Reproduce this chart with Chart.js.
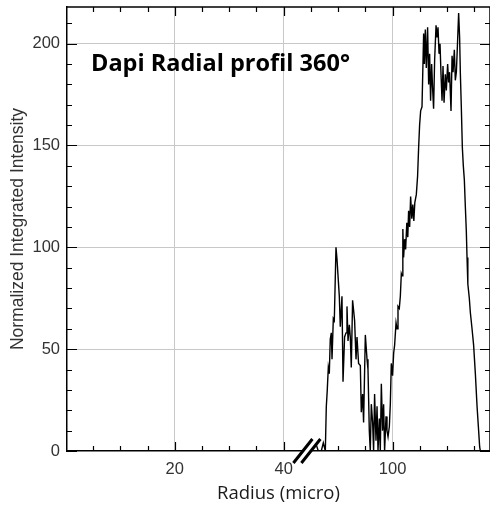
<!DOCTYPE html>
<html>
<head>
<meta charset="utf-8">
<script src="https://cdn.jsdelivr.net/npm/chart.js@4/dist/chart.umd.min.js"></script>
<style>
  html, body { margin: 0; padding: 0; background: #fff; }
  #wrap { width: 490px; height: 512px; }
</style>
</head>
<body>
<div id="wrap"><canvas id="c" width="490" height="512"></canvas></div>
<script>
// ---- data (radius in micro, normalized integrated intensity) ----
const titleText = 'Dapi Radial profil 360°';
const xTitle = 'Radius (micro)';
const yTitle = 'Normalized Integrated Intensity';

// axis break: radius values between breakStart and breakEnd are cut out
const breakStart = 45;
const breakEnd = 85;

const xTickLabels = [20, 40, 100];
const yTickLabels = [0, 50, 100, 150, 200];

const radius = [
  0.2, 45,
  85.00, 85.99, 86.36, 86.91, 87.28, 87.65, 87.77, 87.83, 88.01, 88.20,
  88.38, 88.56, 88.75, 88.88, 89.12, 89.30, 89.61, 89.80, 90.03, 90.22,
  90.40, 90.71, 90.90, 91.19, 91.45, 91.63, 91.82, 92.06, 92.24, 92.42,
  92.66, 92.85, 93.03, 93.29, 93.47, 93.76, 94.08, 94.26, 94.50, 94.68,
  95.00, 95.31, 95.49, 95.73, 95.91, 96.10, 96.34, 96.52, 96.70, 96.96,
  97.15, 97.33, 97.57, 97.75, 97.94, 98.17, 98.36, 98.54, 98.80, 98.98,
  99.17, 99.41, 99.59, 99.77, 100.01, 100.20, 100.38, 100.64, 100.82, 101.00,
  101.24, 101.43, 101.61, 101.74, 101.89, 102.03, 102.22, 102.40, 102.62, 102.80,
  102.95, 103.14, 103.32, 103.54, 103.72, 103.91, 104.09, 104.37, 104.60, 104.79,
  104.97, 105.16, 105.41, 105.71, 105.84, 106.02, 106.20, 106.44, 106.63, 106.81,
  106.99, 107.18, 107.36, 107.54, 107.73, 107.99, 108.17, 108.35, 108.54, 108.72,
  108.90, 109.09, 109.27, 109.46, 109.69, 109.88, 110.12, 110.30, 110.48, 110.74,
  110.93, 111.11, 111.35, 111.53, 111.72, 111.90, 112.14, 112.32, 112.45, 112.63,
  112.82, 113.00, 113.19, 113.37, 113.55, 113.68, 113.83, 114.10, 114.29, 114.60,
  114.89, 115.21, 115.52, 115.81, 116.00, 116.13, 117.78
];

const intensity = [
  0, 0,
  0, 3, 0, 0, 4, 0, 0, 21.7, 30, 41,
  38, 55, 58, 45, 65, 64, 100, 94, 84, 76,
  61, 76, 34, 56, 58, 71, 54, 62, 56, 41,
  74, 69, 64, 45, 56, 43, 42, 19, 28, 14,
  57, 45, 40, 10, 0, 23, 14, 0, 28, 5,
  22, 0, 16, 0, 33, 10, 23, 0, 17, 10,
  7, 12, 23, 43, 37, 48, 52, 63, 60, 71,
  70, 76, 87, 86, 109, 95, 104, 99, 112, 105,
  118, 110, 125, 114, 121, 113, 122, 126, 135, 149,
  160, 167, 169, 205, 190, 207, 188, 208, 180, 195,
  172, 190, 178, 168, 192, 209, 203, 208, 195, 200,
  185, 172, 189, 171, 185, 177, 190, 181, 186, 167,
  194, 186, 197, 182, 186, 198, 215, 203, 186, 169,
  149, 140, 133, 120, 108, 95, 82, 75, 68, 60,
  52, 38, 22, 10, 2, 0, 0
];

// ---- axis-break helpers ----
const gap = breakEnd - breakStart;
const toAxis = r => (r >= breakEnd ? r - gap : r);
const fromAxis = u => (u > breakStart ? u + gap : u);
const points = radius.map((r, i) => ({ x: toAxis(r), y: intensity[i] }));
const xMajor = xTickLabels.map(toAxis);

const tickFont = { family: '"Liberation Sans", Arial, sans-serif', size: 16.5 };
const tickColor = '#333';

const decor = {
  id: 'decor',
  afterDraw(chart) {
    const { ctx, chartArea: a, scales: { x, y } } = chart;
    ctx.save();
    ctx.strokeStyle = '#000';
    ctx.lineWidth = 1.5;
    ctx.beginPath();
    ctx.moveTo(a.left, a.top);
    ctx.lineTo(a.right, a.top);
    ctx.lineTo(a.right, a.bottom);
    ctx.stroke();
    ctx.lineWidth = 1.2;
    ctx.beginPath();
    x.ticks.forEach(t => {
      const px = Math.round(x.getPixelForValue(t.value)) + 0.5;
      const len = xMajor.includes(t.value) ? 9 : 5;
      if (t.value !== breakStart) {
        ctx.moveTo(px, a.bottom);
        ctx.lineTo(px, a.bottom - len);
      }
      ctx.moveTo(px, a.top);
      ctx.lineTo(px, a.top + len);
    });
    y.ticks.forEach(t => {
      const py = Math.round(y.getPixelForValue(t.value)) + 0.5;
      const len = t.value % 50 === 0 ? 10 : 5;
      ctx.moveTo(a.left, py);
      ctx.lineTo(a.left + len, py);
      ctx.moveTo(a.right, py);
      ctx.lineTo(a.right - len, py);
    });
    ctx.stroke();

    // break marks
    const bx = x.getPixelForValue(breakStart);
    const by = a.bottom;
    ctx.fillStyle = '#fff';
    ctx.beginPath();
    ctx.moveTo(bx - 8 - 3, by + 4);
    ctx.lineTo(bx - 8 + 3, by - 4);
    ctx.lineTo(bx + 3, by - 4);
    ctx.lineTo(bx - 3, by + 4);
    ctx.closePath();
    ctx.fill();
    ctx.strokeStyle = '#000';
    ctx.lineWidth = 3;
    ctx.beginPath();
    [bx - 8, bx].forEach(cx => {
      ctx.moveTo(cx - 9.5, by + 12);
      ctx.lineTo(cx + 9.5, by - 12);
    });
    ctx.stroke();

    // title inside plot
    ctx.fillStyle = '#000';
    ctx.font = 'bold 23.5px "Open Sans", "Noto Sans", sans-serif';
    ctx.textBaseline = 'alphabetic';
    ctx.textAlign = 'left';
    ctx.fillText(titleText, a.left + 24, a.top + 63.5);
    ctx.restore();
  }
};

new Chart(document.getElementById('c'), {
  type: 'line',
  data: {
    datasets: [{
      data: points,
      borderColor: '#000',
      borderWidth: 1.4,
      pointRadius: 0,
      tension: 0,
      fill: false
    }]
  },
  options: {
    responsive: false,
    animation: false,
    devicePixelRatio: 1,
    layout: { padding: { top: 7, right: 0, left: 0, bottom: 0 } },
    plugins: { legend: { display: false }, tooltip: { enabled: false } },
    scales: {
      x: {
        type: 'linear',
        min: 0.2,
        max: 77.9,
        afterFit: s => { s.height = 61; s.paddingLeft = 0; s.paddingRight = 0; },
        border: { color: '#000', width: 1.5 },
        grid: {
          drawTicks: false,
          color: c => (c.tick && xMajor.includes(c.tick.value) ? '#c8c8c8' : 'rgba(0,0,0,0)'),
          lineWidth: 1
        },
        ticks: {
          stepSize: 5,
          includeBounds: false,
          autoSkip: false,
          maxRotation: 0,
          padding: 9,
          color: tickColor,
          font: tickFont,
          callback: v => (xMajor.includes(v) ? String(fromAxis(v)) : '')
        },
        title: {
          display: true,
          text: xTitle,
          color: '#1a1a1a',
          font: { family: '"Open Sans", "Noto Sans", sans-serif', size: 18.5 },
          padding: { top: 0, bottom: 7 }
        }
      },
      y: {
        min: 0,
        max: 218,
        afterFit: s => { s.width = 67; s.paddingTop = 0; s.paddingBottom = 0; },
        border: { color: '#000', width: 1.5 },
        grid: {
          drawTicks: false,
          color: c => (c.tick && c.tick.value % 50 === 0 && c.tick.value !== 0 ? '#c8c8c8' : 'rgba(0,0,0,0)'),
          lineWidth: 1
        },
        ticks: {
          stepSize: 10,
          includeBounds: false,
          autoSkip: false,
          padding: 7,
          color: tickColor,
          font: tickFont,
          callback: v => (yTickLabels.includes(v) ? String(v) : '')
        },
        title: {
          display: true,
          text: yTitle,
          color: '#333',
          font: { family: '"Liberation Sans", Arial, sans-serif', size: 17.5 },
          padding: { top: 8, bottom: 0 }
        }
      }
    }
  },
  plugins: [decor]
});
</script>
</body>
</html>
